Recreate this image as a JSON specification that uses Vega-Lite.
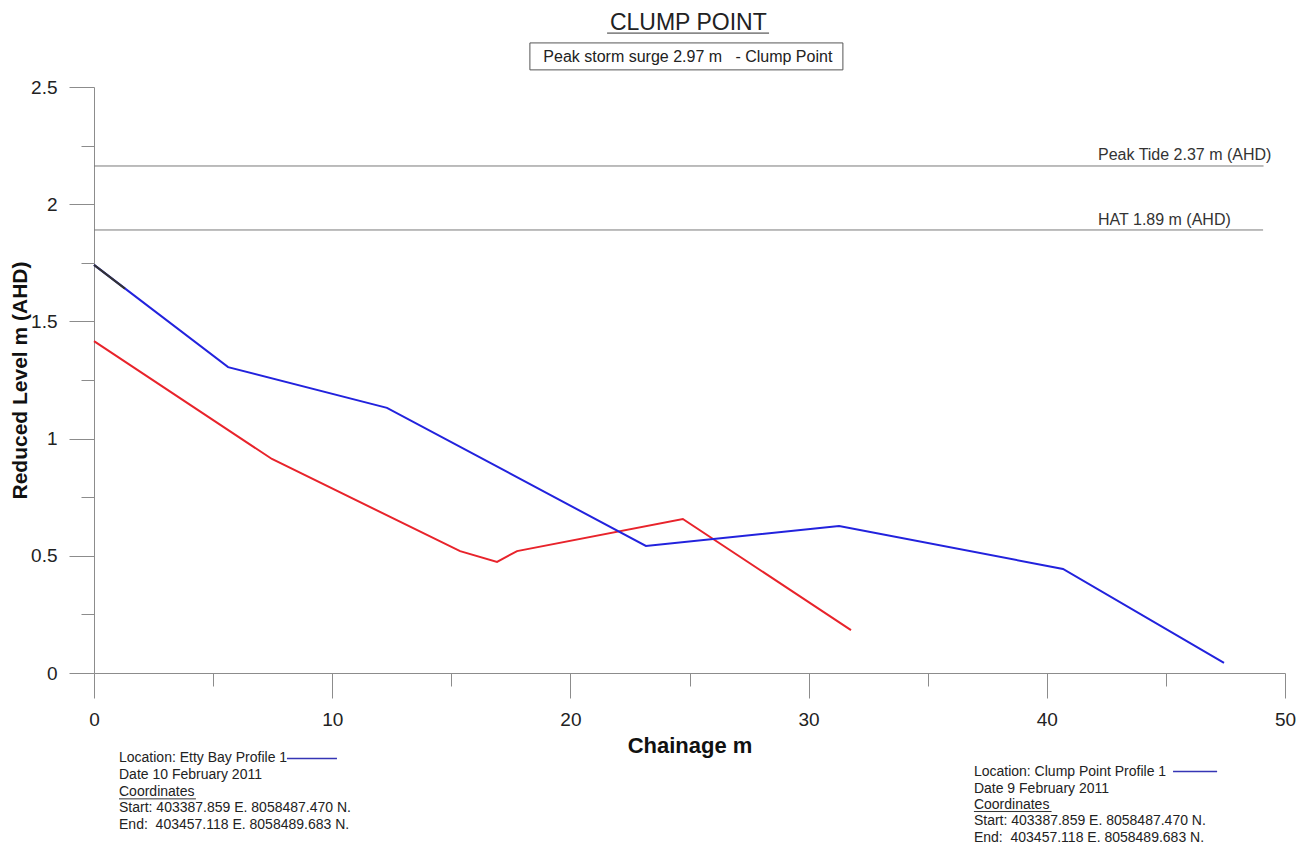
{
  "$schema": "https://vega.github.io/schema/vega-lite/v6.json",
  "width": 1191,
  "height": 586,
  "autosize": {"type": "none"},
  "padding": {"left": 94, "top": 87, "right": 16, "bottom": 174},
  "background": "white",
  "config": {
    "font": "Liberation Sans",
    "view": {"stroke": null},
    "axis": {
      "grid": false,
      "labelFlush": false,
      "domainColor": "#8c8c8c",
      "tickColor": "#8c8c8c",
      "labelColor": "#222222",
      "labelFont": "Liberation Sans",
      "labelFontSize": 19,
      "titleFont": "Liberation Sans",
      "titleFontSize": 21,
      "titleFontWeight": "bold",
      "titleColor": "#111111"
    }
  },
  "resolve": {"axis": {"x": "independent", "y": "independent"}},
  "layer": [
    {
      "data": {"values": [
        {"name": "Peak Tide", "start": 0, "end": 49.1, "level": 2.163},
        {"name": "HAT", "start": 0, "end": 49.08, "level": 1.89}
      ]},
      "mark": {"type": "rule", "color": "#7a7a7a", "strokeWidth": 1},
      "encoding": {
        "x": {"field": "start", "type": "quantitative", "scale": {"domain": [0, 50], "nice": false, "zero": false},
              "axis": {"orient": "bottom", "values": [5, 15, 25, 35, 45], "tickSize": 13, "labels": false, "domain": false, "title": null}},
        "x2": {"field": "end"},
        "y": {"field": "level", "type": "quantitative", "scale": {"domain": [0, 2.5], "nice": false, "zero": false},
              "axis": {"orient": "left", "values": [0.25, 0.75, 1.25, 1.75, 2.25], "tickSize": 13, "labels": false, "domain": false, "title": null}}
      }
    },
    {
      "data": {"values": [
        {"series": "Etty Bay", "chainage": 0, "level": 1.416},
        {"series": "Etty Bay", "chainage": 7.47, "level": 0.913},
        {"series": "Etty Bay", "chainage": 15.37, "level": 0.52},
        {"series": "Etty Bay", "chainage": 16.92, "level": 0.474},
        {"series": "Etty Bay", "chainage": 17.76, "level": 0.52},
        {"series": "Etty Bay", "chainage": 24.72, "level": 0.657},
        {"series": "Etty Bay", "chainage": 31.78, "level": 0.183},
        {"series": "Clump Point", "chainage": 0, "level": 1.741},
        {"series": "Clump Point", "chainage": 5.63, "level": 1.305},
        {"series": "Clump Point", "chainage": 12.3, "level": 1.131},
        {"series": "Clump Point", "chainage": 23.17, "level": 0.542},
        {"series": "Clump Point", "chainage": 31.28, "level": 0.627},
        {"series": "Clump Point", "chainage": 40.68, "level": 0.444},
        {"series": "Clump Point", "chainage": 47.44, "level": 0.043},
        {"series": "Start", "chainage": 0, "level": 1.741},
        {"series": "Start", "chainage": 1.3, "level": 1.64}
      ]},
      "mark": {"type": "line", "strokeWidth": 2},
      "encoding": {
        "x": {"field": "chainage", "type": "quantitative", "scale": {"domain": [0, 50], "nice": false, "zero": false},
              "axis": {"orient": "bottom", "values": [0, 10, 20, 30, 40, 50], "tickSize": 25, "labelPadding": 12, "title": "Chainage m", "titlePadding": 6, "titleFontSize": 22}},
        "y": {"field": "level", "type": "quantitative", "scale": {"domain": [0, 2.5], "nice": false, "zero": false},
              "axis": {"orient": "left", "values": [0, 0.5, 1, 1.5, 2, 2.5], "format": "~g", "tickSize": 25, "labelPadding": 12, "title": "Reduced Level m (AHD)", "titlePadding": 0}},
        "color": {"field": "series", "type": "nominal", "scale": {"domain": ["Clump Point", "Etty Bay", "Start"], "range": ["#2222dd", "#e8232b", "#333333"]}, "legend": null},
        "order": {"field": "chainage", "type": "quantitative"}
      }
    },
    {
      "data": {"values": [{"text": "CLUMP POINT", "x": 24.95, "y": 2.772}]},
      "mark": {"type": "text", "fontSize": 23, "color": "#222222", "align": "center", "baseline": "middle"},
      "encoding": {
        "x": {"field": "x", "type": "quantitative", "scale": {"domain": [0, 50], "nice": false, "zero": false}, "axis": null},
        "y": {"field": "y", "type": "quantitative", "scale": {"domain": [0, 2.5], "nice": false, "zero": false}, "axis": null},
        "text": {"field": "text"}
      }
    },
    {
      "data": {"values": [{"text": "Peak storm surge 2.97 m \u00a0 - Clump Point", "x": 24.93, "y": 2.628}]},
      "mark": {"type": "text", "fontSize": 16, "color": "#222222", "align": "center", "baseline": "middle"},
      "encoding": {
        "x": {"field": "x", "type": "quantitative", "scale": {"domain": [0, 50], "nice": false, "zero": false}, "axis": null},
        "y": {"field": "y", "type": "quantitative", "scale": {"domain": [0, 2.5], "nice": false, "zero": false}, "axis": null},
        "text": {"field": "text"}
      }
    },
    {
      "data": {"values": [{"x": 18.3, "x2": 31.44, "y": 2.573, "y2": 2.688}]},
      "mark": {"type": "rect", "fill": null, "stroke": "#555555", "strokeWidth": 1},
      "encoding": {
        "x": {"field": "x", "type": "quantitative", "scale": {"domain": [0, 50], "nice": false, "zero": false}, "axis": null},
        "x2": {"field": "x2"},
        "y": {"field": "y", "type": "quantitative", "scale": {"domain": [0, 2.5], "nice": false, "zero": false}, "axis": null},
        "y2": {"field": "y2"}
      }
    },
    {
      "data": {"values": [
        {"x": 21.54, "x2": 28.34, "y": 2.73},
        {"x": 1.05, "x2": 4.28, "y": -0.537},
        {"x": 36.94, "x2": 40.2, "y": -0.591}
      ]},
      "mark": {"type": "rule", "color": "#333333", "strokeWidth": 1},
      "encoding": {
        "x": {"field": "x", "type": "quantitative", "scale": {"domain": [0, 50], "nice": false, "zero": false}, "axis": null},
        "x2": {"field": "x2"},
        "y": {"field": "y", "type": "quantitative", "scale": {"domain": [0, 2.5], "nice": false, "zero": false}, "axis": null}
      }
    },
    {
      "data": {"values": [
        {"x": 8.1, "x2": 10.2, "y": -0.365},
        {"x": 45.3, "x2": 47.15, "y": -0.42}
      ]},
      "mark": {"type": "rule", "color": "#3535b5", "strokeWidth": 1.5},
      "encoding": {
        "x": {"field": "x", "type": "quantitative", "scale": {"domain": [0, 50], "nice": false, "zero": false}, "axis": null},
        "x2": {"field": "x2"},
        "y": {"field": "y", "type": "quantitative", "scale": {"domain": [0, 2.5], "nice": false, "zero": false}, "axis": null}
      }
    },
    {
      "data": {"values": [
        {"text": "Peak Tide 2.37 m (AHD)", "x": 42.15, "y": 2.21},
        {"text": "HAT 1.89 m (AHD)", "x": 42.15, "y": 1.933}
      ]},
      "mark": {"type": "text", "fontSize": 16, "color": "#333333", "align": "left", "baseline": "middle"},
      "encoding": {
        "x": {"field": "x", "type": "quantitative", "scale": {"domain": [0, 50], "nice": false, "zero": false}, "axis": null},
        "y": {"field": "y", "type": "quantitative", "scale": {"domain": [0, 2.5], "nice": false, "zero": false}, "axis": null},
        "text": {"field": "text"}
      }
    },
    {
      "data": {"values": [
        {"text": "Location: Etty Bay Profile 1", "x": 1.05, "y": -0.363},
        {"text": "Date 10 February 2011", "x": 1.05, "y": -0.435},
        {"text": "Coordinates", "x": 1.05, "y": -0.508},
        {"text": "Start: 403387.859 E. 8058487.470 N.", "x": 1.05, "y": -0.576},
        {"text": "End: \u00a0403457.118 E. 8058489.683 N.", "x": 1.05, "y": -0.648},
        {"text": "Location: Clump Point Profile 1", "x": 36.94, "y": -0.422},
        {"text": "Date 9 February 2011", "x": 36.94, "y": -0.495},
        {"text": "Coordinates", "x": 36.94, "y": -0.563},
        {"text": "Start: 403387.859 E. 8058487.470 N.", "x": 36.94, "y": -0.631},
        {"text": "End: \u00a0403457.118 E. 8058489.683 N.", "x": 36.94, "y": -0.704}
      ]},
      "mark": {"type": "text", "fontSize": 14, "color": "#222222", "align": "left", "baseline": "middle"},
      "encoding": {
        "x": {"field": "x", "type": "quantitative", "scale": {"domain": [0, 50], "nice": false, "zero": false}, "axis": null},
        "y": {"field": "y", "type": "quantitative", "scale": {"domain": [0, 2.5], "nice": false, "zero": false}, "axis": null},
        "text": {"field": "text"}
      }
    }
  ]
}
